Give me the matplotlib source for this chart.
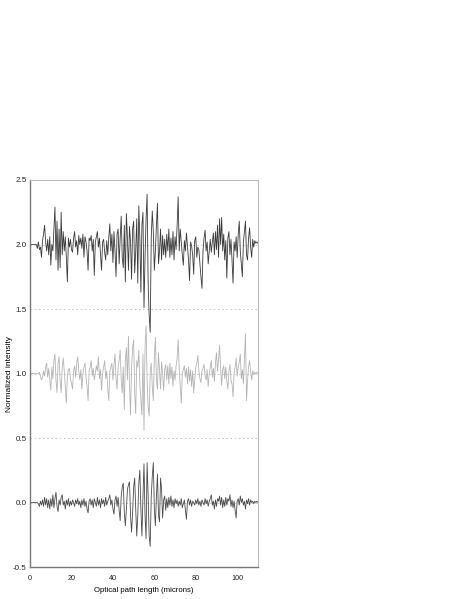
import matplotlib
matplotlib.use('Agg')
import matplotlib.pyplot as plt
import numpy as np

# optical path sampled every 0.5 micron, 0 .. 110
path_step = 0.5
path_max = 110.0

# trace offsets (normalized intensity baseline of each trace)
offsets = [2.0, 1.0, 0.0]

# deviations from baseline (10 values = 5 microns per row)
top_trace = [
    0, 0, 0, 0, 0, 0, 0, -0.03, 0.02, -0.04,
    -0.02, -0.10, 0.03, 0.08, 0.15, 0.02, -0.05, 0.04, -0.08, 0.06,
    -0.16, 0.00, -0.05, 0.12, 0.29, -0.12, 0.18, -0.20, 0.12, -0.18,
    0.25, -0.08, 0.10, -0.05, 0.06, -0.10, -0.29, 0.05, -0.02, 0.04,
    -0.04, -0.06, 0.05, 0.10, -0.02, 0.03, -0.08, 0.07, 0.00, 0.05,
    -0.03, 0.08, -0.10, 0.06, 0.02, -0.05, -0.20, 0.05, 0.03, 0.07,
    -0.05, 0.04, -0.24, 0.02, 0.06, 0.10, -0.02, 0.05, -0.08, -0.20,
    0.02, 0.04, -0.06, -0.12, 0.03, -0.08, 0.05, 0.16, -0.05, 0.08,
    -0.14, 0.10, -0.05, -0.25, 0.08, 0.12, -0.15, 0.05, 0.22, -0.10,
    -0.18, 0.15, -0.29, 0.24, 0.05, -0.20, 0.14, 0.02, -0.27, 0.12,
    0.18, -0.22, -0.05, 0.20, -0.30, 0.30, 0.05, -0.37, 0.15, 0.25,
    -0.49, -0.10, 0.20, 0.39, -0.30, -0.55, -0.68, 0.05, 0.26, 0.10,
    -0.20, -0.05, 0.15, 0.32, -0.15, -0.05, 0.12, -0.12, 0.07, -0.08,
    0.04, -0.10, 0.08, -0.05, 0.12, -0.10, 0.05, -0.08, 0.10, -0.12,
    0.06, -0.04, 0.15, 0.37, -0.05, 0.12, 0.02, -0.08, -0.16, 0.03,
    -0.05, 0.09, -0.02, -0.12, -0.28, 0.02, -0.01, -0.08, -0.23, 0.03,
    0.06, -0.10, -0.02, -0.04, -0.15, -0.25, -0.34, -0.05, 0.05, 0.11,
    -0.05, 0.02, -0.15, -0.05, 0.04, -0.06, 0.02, 0.09, -0.08, 0.10,
    -0.04, 0.15, -0.10, 0.20, 0.00, 0.21, -0.05, 0.08, -0.12, 0.03,
    -0.26, 0.05, 0.10, -0.08, 0.04, -0.12, -0.30, 0.02, -0.05, 0.06,
    -0.10, 0.08, 0.18, -0.05, -0.15, -0.25, 0.02, 0.10, 0.18, -0.08,
    -0.12, 0.05, 0.13, -0.02, -0.10, 0.04, -0.02, 0.03, 0.01, 0.02,
    0.01,
]

middle_trace = [
    0, 0, 0, 0, 0, 0, 0, 0, 0, 0.01,
    -0.02, -0.05, -0.03, 0.02, -0.02, 0.05, 0.08, -0.03, 0.04, -0.05,
    -0.13, 0.05, -0.04, 0.10, 0.15, -0.05, -0.15, 0.08, 0.13, -0.06,
    -0.15, 0.05, 0.12, 0.02, -0.10, -0.23, -0.02, 0.03, 0.04, -0.04,
    -0.08, -0.12, 0.02, 0.06, -0.03, 0.08, 0.13, 0.02, -0.05, 0.03,
    -0.12, 0.00, 0.05, 0.08, -0.03, -0.10, -0.21, 0.02, 0.05, 0.10,
    -0.02, 0.04, -0.05, 0.00, 0.06, 0.02, 0.13, -0.04, 0.03, -0.13,
    0.00, 0.05, 0.10, -0.04, 0.02, -0.12, -0.21, 0.02, 0.05, 0.08,
    -0.05, 0.06, 0.15, -0.04, -0.12, 0.05, 0.10, 0.18, -0.05, -0.15,
    0.05, -0.28, 0.10, 0.20, -0.05, 0.29, -0.10, -0.32, 0.05, 0.20,
    0.26, -0.15, -0.31, 0.10, 0.05, 0.18, -0.08, -0.20, -0.32, 0.15,
    -0.44, 0.20, 0.37, -0.05, -0.26, -0.33, 0.02, 0.08, -0.10, -0.21,
    0.12, 0.28, -0.05, -0.12, 0.16, 0.02, -0.12, 0.09, 0.00, -0.13,
    0.03, 0.07, -0.05, 0.06, -0.08, 0.08, -0.04, 0.05, -0.10, 0.02,
    -0.05, 0.06, 0.12, 0.26, 0.05, -0.10, -0.23, 0.00, 0.03, 0.06,
    -0.03, 0.04, -0.08, 0.05, -0.06, 0.03, -0.10, 0.02, -0.15, -0.05,
    0.05, 0.08, 0.14, 0.02, -0.04, -0.07, 0.02, 0.04, 0.07, -0.02,
    -0.05, 0.03, -0.10, 0.00, 0.05, 0.10, -0.03, 0.04, -0.06, 0.08,
    0.16, 0.02, 0.10, 0.22, 0.04, -0.09, 0.03, 0.06, -0.04, 0.05,
    -0.06, -0.12, 0.02, 0.07, -0.05, -0.08, -0.18, 0.00, 0.05, 0.12,
    -0.02, 0.05, 0.09, 0.15, -0.04, 0.03, -0.08, 0.12, 0.31, -0.21,
    -0.05, 0.05, 0.10, 0.02, -0.05, 0.02, -0.01, 0.01, 0.00, 0.01,
    0.00,
]

bottom_trace = [
    0, 0, 0, 0, 0, 0, 0, 0.00, -0.01, -0.03,
    0.01, -0.02, 0.02, -0.03, 0.04, -0.02, 0.03, -0.04, 0.02, -0.05,
    0.03, -0.03, 0.06, -0.04, 0.03, 0.08, -0.03, -0.07, 0.02, -0.02,
    0.04, 0.06, -0.02, 0.01, -0.05, 0.02, -0.02, 0.03, -0.03, 0.01,
    -0.02, 0.02, 0.00, -0.03, 0.02, -0.01, 0.03, -0.02, 0.01, -0.04,
    0.02, -0.02, 0.03, -0.03, 0.01, -0.05, -0.08, 0.01, 0.03, -0.02,
    0.02, -0.04, 0.03, 0.00, -0.03, 0.04, -0.02, 0.02, -0.04, 0.03,
    -0.01, 0.02, -0.03, 0.04, -0.02, 0.01, 0.03, 0.06, -0.02, 0.02,
    -0.05, -0.09, 0.02, 0.05, -0.03, 0.04, -0.06, -0.14, 0.05, 0.12,
    0.15, -0.08, -0.18, -0.05, 0.10, 0.14, 0.16, -0.10, -0.23, -0.08,
    0.12, 0.19, -0.05, -0.26, -0.10, 0.15, 0.25, -0.05, -0.26, 0.05,
    0.30, -0.10, -0.28, 0.31, 0.05, -0.26, -0.34, 0.05, 0.20, 0.31,
    -0.05, -0.18, 0.05, 0.22, -0.10, -0.15, 0.19, 0.10, -0.12, 0.02,
    0.05, -0.06, 0.03, -0.04, 0.04, -0.02, 0.05, -0.03, 0.02, -0.04,
    0.03, -0.01, 0.02, -0.03, 0.01, -0.02, 0.03, -0.04, -0.01, 0.02,
    -0.06, -0.13, 0.01, 0.03, -0.02, 0.02, -0.03, 0.01, 0.00, -0.02,
    0.02, -0.01, 0.03, -0.02, 0.01, -0.03, 0.02, 0.00, -0.02, 0.03,
    -0.01, 0.02, -0.03, 0.01, 0.03, 0.06, -0.02, 0.01, -0.05, 0.02,
    -0.03, 0.03, 0.01, 0.05, -0.02, 0.04, -0.04, 0.02, -0.03, 0.04,
    -0.02, 0.03, 0.01, 0.06, -0.03, 0.02, -0.04, 0.01, -0.06, -0.12,
    0.01, 0.03, -0.02, 0.05, 0.00, 0.03, -0.02, 0.01, -0.05, 0.02,
    -0.01, 0.03, -0.02, 0.02, 0.00, 0.01, -0.01, 0.01, 0.00, 0.01,
    0.00,
]

trace_colors = ['#3a3a3a', '#b4b4b4', '#4a4a4a']

path = np.arange(0, path_max + path_step / 2, path_step)
traces = [top_trace, middle_trace, bottom_trace]
for t in traces:
    assert len(t) == len(path), len(t)

plt.rcParams['font.family'] = ['Liberation Sans', 'DejaVu Sans']

fig = plt.figure(figsize=(4.63, 5.99), dpi=100)
ax = fig.add_axes([0.065, 0.0534, 0.492, 0.6461])

ax.yaxis.grid(True, linestyle=(0, (2, 3)), color='#c0c0c0', linewidth=0.6)
ax.set_axisbelow(True)

for t, off, col in zip(traces, offsets, trace_colors):
    ax.plot(path, np.array(t) + off, color=col, linewidth=0.6)

ax.set_xlim(0, 110)
ax.set_ylim(-0.5, 2.5)
ax.set_xticks([0, 20, 40, 60, 80, 100])
ax.set_yticks([-0.5, 0.0, 0.5, 1.0, 1.5, 2.0, 2.5])
ax.yaxis.set_major_formatter(matplotlib.ticker.FormatStrFormatter('%.1f'))
ax.tick_params(length=0, colors='#222222')
ax.tick_params(axis='x', labelsize=5.2, pad=5.5)
ax.tick_params(axis='y', labelsize=5.8, pad=2.5)

for side in ['left', 'bottom']:
    ax.spines[side].set_color('#777777')
    ax.spines[side].set_linewidth(1.0)
for side in ['right', 'top']:
    ax.spines[side].set_color('#bbbbbb')
    ax.spines[side].set_linewidth(0.8)

ax.set_xlabel('Optical path length (microns)', fontsize=5.6, labelpad=3.5)
ax.set_ylabel('Normalized intensity', fontsize=6.0)
ax.yaxis.set_label_coords(-0.074, 0.5)

fig.savefig('out.png', dpi=100)
